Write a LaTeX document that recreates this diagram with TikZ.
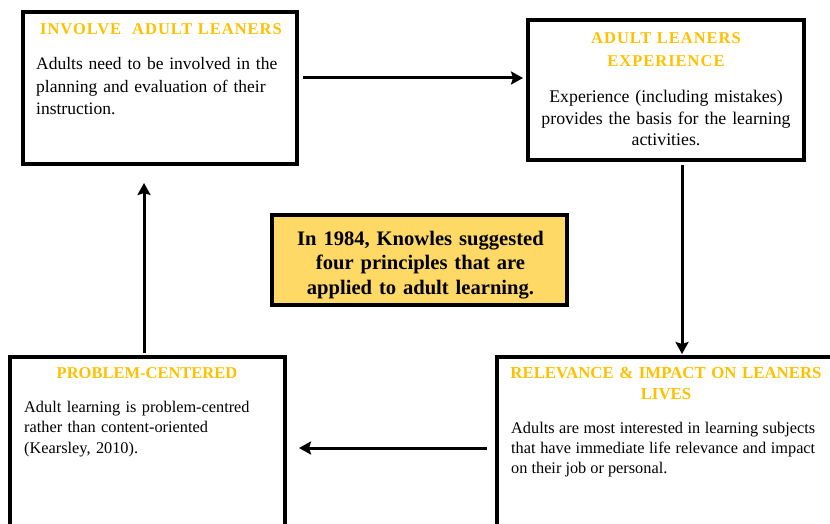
\documentclass[tikz,border=0pt]{standalone}
\usepackage{fontspec}
\setmainfont{Liberation Serif}
\usetikzlibrary{arrows.meta,calc}
\definecolor{titlegold}{HTML}{FFC000}
\definecolor{notefill}{HTML}{FFD966}
\begin{document}
\begin{tikzpicture}[x=1pt,y=-1pt,
  mybox/.style={draw=black,line width=3.5pt,fill=white,rectangle,inner sep=0pt,outer sep=0pt},
  mytitle/.style={text=titlegold,inner sep=0pt,anchor=base,align=center,
    font=\bfseries\fontsize{16.5}{22.5}\selectfont},
  mybody/.style={text=black,inner sep=0pt},
  myarrow/.style={line width=3pt,-{Stealth[length=12pt,width=13pt,inset=2pt]}}]
\clip (0,0) rectangle (830,524);
\fill[white] (0,0) rectangle (830,524);
% boxes
\node[mybox,minimum width=274,minimum height=152] (b1) at (160,88) {};
\node[mybox,minimum width=276,minimum height=140] (b2) at (666,90) {};
\node[mybox,minimum width=275,minimum height=203] (b3) at (147.5,458.5) {};
\node[mybox,minimum width=363,minimum height=203] (b4) at (678.5,458.5) {};
\node[mybox,fill=notefill,minimum width=295,minimum height=90] (c) at (419.5,260) {};
% titles
\node[mytitle,text width=274] (t1) at (161,35) {\addfontfeatures{LetterSpace=6}INVOLVE\ \ ADULT LEANERS};
\node[mytitle,text width=276,font=\bfseries\fontsize{16.5}{23}\selectfont] (t2) at (666,44) {\addfontfeatures{LetterSpace=6}ADULT LEANERS\\EXPERIENCE};
\node[mytitle,text width=275] (t3) at (147,378) {PROBLEM-CENTERED};
\node[mytitle,text width=330,font=\bfseries\fontsize{16.8}{21}\selectfont] (t4) at (666,378) {RELEVANCE \& IMPACT ON LEANERS\\LIVES};
% bodies
\node[mybody,anchor=base west,text width=255,align=left,font=\fontsize{17.5}{22.5}\selectfont] (x1) at (36,70)
  {Adults need to be involved in the\\planning and evaluation of their\\instruction.};
\node[mybody,anchor=base,text width=276,align=center,font=\fontsize{17.8}{21.5}\selectfont] (x2) at (666,103)
  {Experience (including mistakes)\\provides the basis for the learning\\activities.};
\node[mybody,anchor=base west,text width=250,align=left,font=\fontsize{16.3}{20.5}\selectfont] (x3) at (24,412)
  {Adult learning is problem-centred\\rather than content-oriented\\(Kearsley, 2010).};
\node[mybody,anchor=base west,text width=304,align=justify,font=\fontsize{16.3}{20}\selectfont] (x4) at (511,433)
  {Adults are most interested in learning subjects\linebreak that have immediate life relevance and impact\linebreak on their job or personal.};
\node[mybody,anchor=base,text width=295,align=center,font=\bfseries\fontsize{20.6}{24.5}\selectfont] (xc) at (420.5,245)
  {In 1984, Knowles suggested\\four principles that are\\applied to adult learning.};
% arrows
\draw[myarrow] ($(b1.east)+(6,-10)$) -- ($(b2.west)+(-5,-12)$);
\draw[myarrow] ($(b2.south)+(16,5)$) -- ($(b4.north)+(3.5,-3)$);
\draw[myarrow] ($(b4.west)+(-10,-10.5)$) -- ($(b3.east)+(14,-10.5)$);
\draw[myarrow] ($(b3.north)+(-3.5,-4)$) -- ($(b1.south)+(-16,19)$);
\end{tikzpicture}
\end{document}
